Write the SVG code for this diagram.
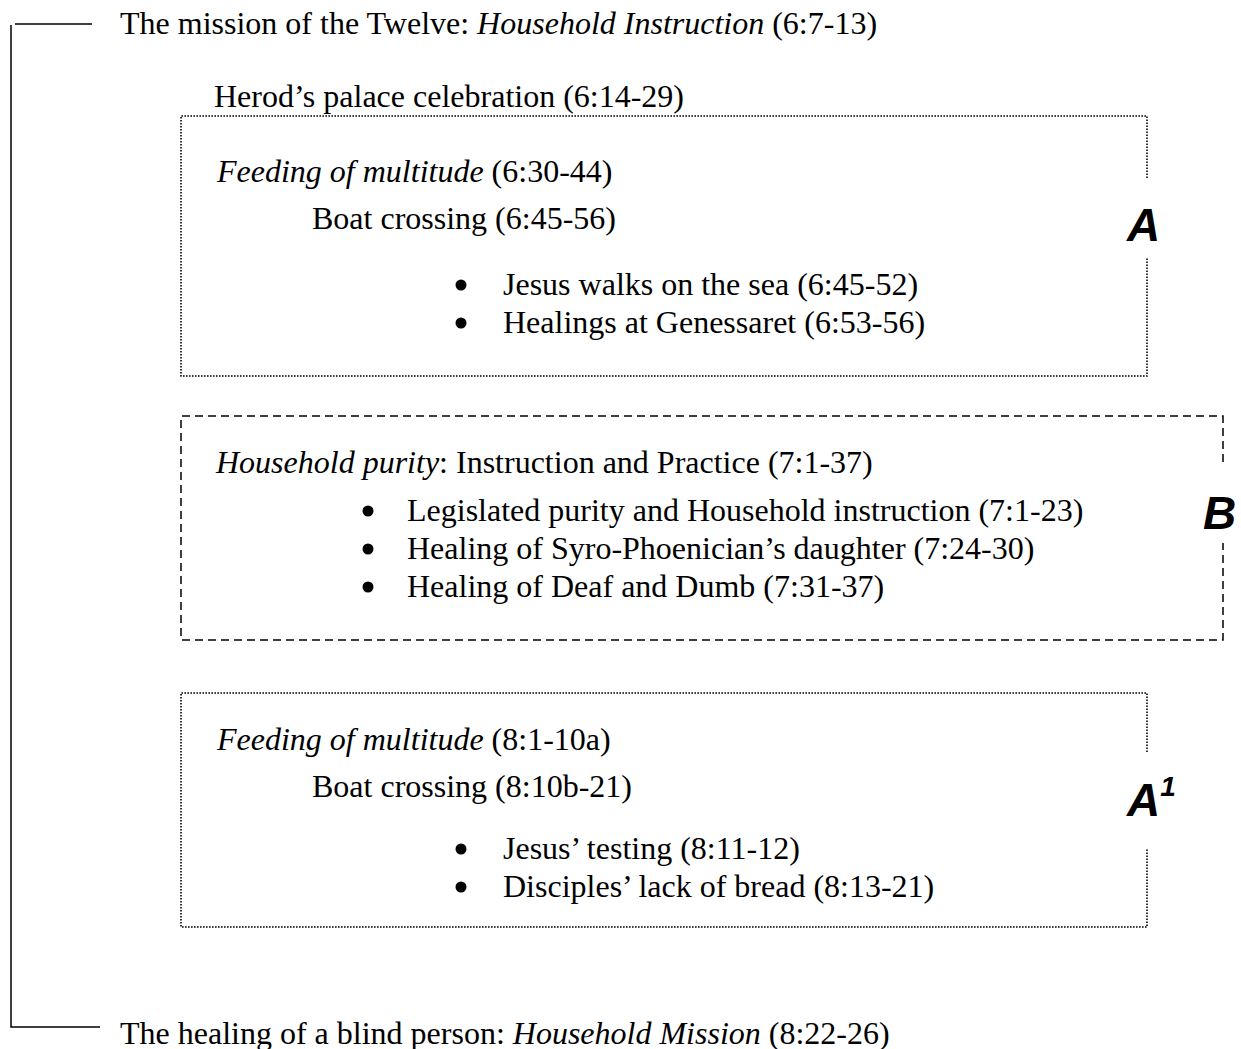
<svg xmlns="http://www.w3.org/2000/svg" width="1241" height="1049" viewBox="0 0 1241 1049">
<style>
.t{font-family:"Liberation Serif","Times New Roman",serif;font-size:32px;fill:#000}
.i{font-style:italic}
.lab{font-family:"Liberation Sans",Arial,sans-serif;font-weight:bold;font-style:italic;font-size:46px;fill:#000}
.dot{fill:none;stroke:#000;stroke-width:1.6;stroke-dasharray:1.6 1.4}
.dash{fill:none;stroke:#000;stroke-width:1.5;stroke-dasharray:8 5}
.br{fill:none;stroke:#000;stroke-width:1.5}
.bu{fill:#000}
</style>
<rect width="1241" height="1049" fill="#fff"/>
<g id="connectors">
<path class="br" d="M15 24H92"/>
<path class="br" d="M11 25V1027H100"/>
</g>
<g id="top">
<text class="t" x="120" y="34">The mission of the Twelve: <tspan class="i">Household Instruction</tspan> (6:7-13)</text>
</g>
<g id="herod">
<text class="t" x="214" y="107">Herod’s palace celebration (6:14-29)</text>
</g>
<g id="boxA">
<path class="dot" d="M1147 178V116H181V376H1147V257"/>
<text class="t" x="217" y="182"><tspan class="i">Feeding of multitude</tspan> (6:30-44)</text>
<text class="t" x="312" y="229">Boat crossing (6:45-56)</text>
<circle class="bu" cx="461" cy="285" r="5.5"/>
<text class="t" x="503" y="295">Jesus walks on the sea (6:45-52)</text>
<circle class="bu" cx="461" cy="323" r="5.5"/>
<text class="t" x="503" y="333">Healings at Genessaret (6:53-56)</text>
<text class="lab" x="1127" y="241">A</text>
</g>
<g id="boxB">
<path class="dash" d="M1223 462V416H181V640H1223V543"/>
<text class="t" x="216" y="473"><tspan class="i">Household purity</tspan>: Instruction and Practice (7:1-37)</text>
<circle class="bu" cx="368" cy="511" r="5.5"/>
<text class="t" x="407" y="521">Legislated purity and Household instruction (7:1-23)</text>
<circle class="bu" cx="368" cy="549" r="5.5"/>
<text class="t" x="407" y="559">Healing of Syro-Phoenician’s daughter (7:24-30)</text>
<circle class="bu" cx="368" cy="587" r="5.5"/>
<text class="t" x="407" y="597">Healing of Deaf and Dumb (7:31-37)</text>
<text class="lab" x="1203" y="529">B</text>
</g>
<g id="boxA1">
<path class="dot" d="M1147 752V693H181V927H1147V848"/>
<text class="t" x="217" y="750"><tspan class="i">Feeding of multitude</tspan> (8:1-10a)</text>
<text class="t" x="312" y="797">Boat crossing (8:10b-21)</text>
<circle class="bu" cx="461" cy="849" r="5.5"/>
<text class="t" x="503" y="859">Jesus’ testing (8:11-12)</text>
<circle class="bu" cx="461" cy="887" r="5.5"/>
<text class="t" x="503" y="897">Disciples’ lack of bread (8:13-21)</text>
<text class="lab" x="1127" y="816">A<tspan font-size="28" dy="-20">1</tspan></text>
</g>
<g id="bottom">
<text class="t" x="120" y="1044">The healing of a blind person: <tspan class="i">Household Mission</tspan> (8:22-26)</text>
</g>
</svg>
